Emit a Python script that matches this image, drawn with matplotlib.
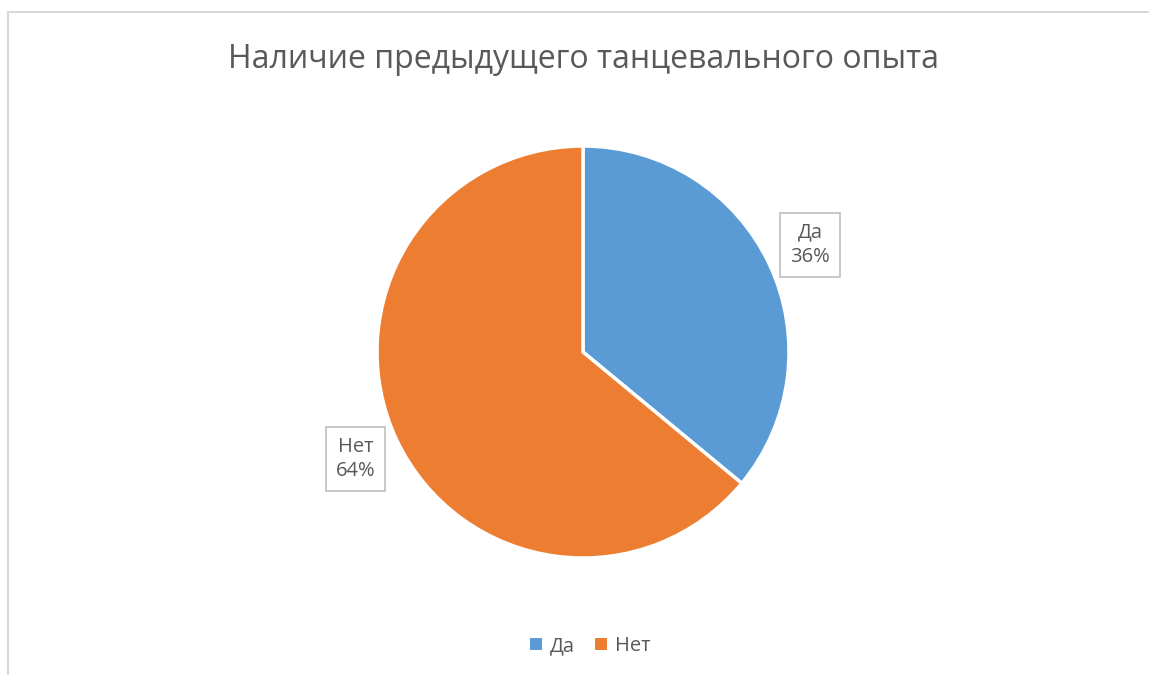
import numpy as np
import matplotlib.pyplot as plt
from matplotlib.patches import Rectangle

# data
categories = ['Да', 'Нет']
shares = [36, 64]
colors = ['#5B9BD5', '#ED7D31']
title = 'Наличие предыдущего танцевального опыта'

plt.rcParams['font.family'] = ['Open Sans', 'DejaVu Sans']
text_color = '#595959'

W, H = 1149, 675
fig = plt.figure(figsize=(W / 100, H / 100), dpi=100)
ax = fig.add_axes([0, 0, 1, 1])
ax.axis('off')

# chart border (only top and left edges visible)
fig.patches.append(Rectangle((8 / W, -0.1), 1.2, (H - 12) / H + 0.1,
                             transform=fig.transFigure, fill=False,
                             edgecolor='#D9D9D9', linewidth=1.5))

cx, cy, r = 583, H - 352, 206
wedges, _ = ax.pie(shares, colors=colors, startangle=90, counterclock=False,
                   center=(cx, cy), radius=r,
                   wedgeprops=dict(edgecolor='white', linewidth=2.5))
ax.set_xlim(0, W)
ax.set_ylim(0, H)
ax.set_aspect('equal')

for w, cat, val in zip(wedges, categories, shares):
    ang = np.deg2rad((w.theta1 + w.theta2) / 2)
    tx = cx + 1.22 * r * np.cos(ang)
    ty = cy + 1.22 * r * np.sin(ang)
    ax.text(tx, ty, f'{cat}\n{val}%', ha='center', va='center',
            fontsize=14.5, color=text_color, linespacing=1.3,
            bbox=dict(boxstyle='square,pad=0.5', facecolor='white',
                      edgecolor='#BFBFBF', linewidth=1.2))

fig.text(584 / W, 1 - 59 / H, title, ha='center', va='center',
         fontsize=23, color=text_color)

handles = [Rectangle((0, 0), 1, 1, facecolor=c, edgecolor='none') for c in colors]
leg = fig.legend(handles, categories, loc='center', bbox_to_anchor=(590 / W, 1 - 646 / H),
                 ncol=2, frameon=False, fontsize=14.5, handlelength=0.6,
                 handleheight=0.6, handletextpad=0.4, columnspacing=1.0)
for t in leg.get_texts():
    t.set_color(text_color)

fig.savefig('out.png', dpi=100)
